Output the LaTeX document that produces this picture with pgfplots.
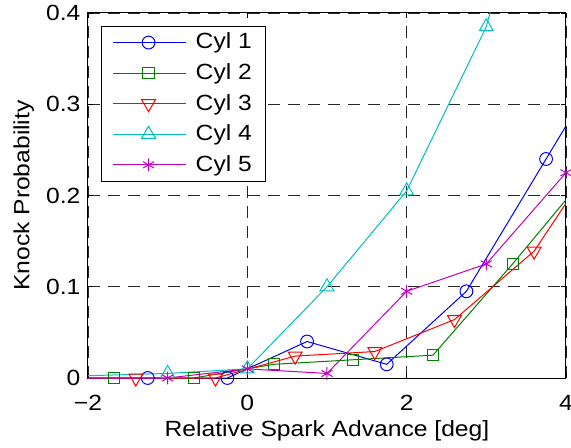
\documentclass[border=0pt]{standalone}
\usepackage{fontspec}
\setmainfont[FakeStretch=1.12]{Liberation Sans}
\usepackage{pgfplots}
\pgfplotsset{compat=1.18}

\definecolor{c1}{rgb}{0,0,1}
\definecolor{c2}{rgb}{0,0.5,0}
\definecolor{c3}{rgb}{1,0,0}
\definecolor{c4}{rgb}{0,0.75,0.75}
\definecolor{c5}{rgb}{0.75,0,0.75}

\begin{document}
\fontsize{16.5}{19}\selectfont
\begin{tikzpicture}
\path[use as bounding box] (-66pt,-51.75pt) rectangle (362.25pt,283.5pt);
\begin{axis}[
    scale only axis,
    width=358.5pt, height=273.75pt,
    at={(0,0)}, anchor=south west,
    xmin=-2, xmax=4, ymin=0, ymax=0.4,
    xtick={-2,0,2,4}, xticklabels={−2,0,2,4},
    ytick={0,0.1,0.2,0.3,0.4},
    yticklabels={0,0.1,0.2,0.3,0.4},
    tick align=inside, major tick length=4pt,
    tick style={black, line width=0.6pt},
    axis line style={line width=0.75pt},
    grid=major,
    grid style={black!85, line width=0.6pt, dash pattern=on 9pt off 6pt},
    clip mode=global,
    xlabel={Relative Spark Advance [deg]},
    ylabel={Knock Probability},
    every tick label/.append style={font=\fontsize{16.5}{19}\selectfont},
    label style={font=\fontsize{16.5}{19}\selectfont},
    xticklabel style={yshift=-7pt},
    xlabel style={yshift=4pt},
    ylabel style={yshift=-2pt},
    legend style={at={(0.027,0.965)}, anchor=north west, draw=black,
        line width=0.75pt, font=\fontsize{16.5}{19}\selectfont,
        row sep=4.5pt, column sep=5pt, inner xsep=8pt, inner ysep=3pt},
    legend cell align=left,
    legend image code/.code={%
        \draw[mark repeat=2,mark phase=2] plot coordinates {(0pt,0pt) (27pt,0pt) (55pt,0pt)};},
    every axis plot/.append style={line width=0.75pt, mark options={solid, line width=0.75pt}},
]
\addplot[c1, mark=o, mark size=4.8pt] coordinates {
    (-2.25,0) (-1.25,0) (-0.25,0) (0.75,0.040) (1.75,0.015) (2.75,0.095) (3.75,0.240) (4.75,0.385)
};
\addplot[c2, mark=square, mark size=4.2pt] coordinates {
    (-2.67,0) (-1.67,0) (-0.67,0) (0.33,0.015) (1.33,0.020) (2.33,0.025) (3.33,0.125) (4.33,0.230)
};
\addplot[c3, mark=triangle, mark options={rotate=180}, mark size=6pt] coordinates {
    (-2.4,0) (-1.4,0) (-0.4,0) (0.6,0.024) (1.6,0.029) (2.6,0.064) (3.6,0.139) (4.6,0.270)
};
\addplot[c4, mark=triangle, mark size=6pt] coordinates {
    (-3,0) (-1,0.005) (0,0.010) (1,0.100) (2,0.205) (3,0.385) (4,0.720)
};
\addplot[c5, mark=asterisk, mark size=4.8pt] coordinates {
    (-3,0) (-1,0) (0,0.010) (1,0.005) (2,0.095) (3,0.125) (4,0.225)
};
\legend{Cyl 1, Cyl 2, Cyl 3, Cyl 4, Cyl 5}
\end{axis}
\end{tikzpicture}
\end{document}
